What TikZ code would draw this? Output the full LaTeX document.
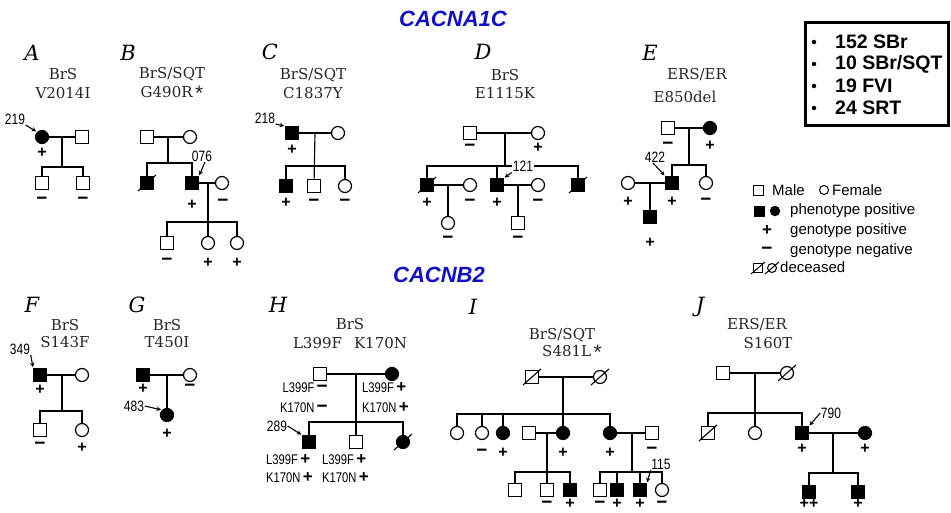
\documentclass[tikz,border=0pt]{standalone}
\usepackage{fontspec}
\setmainfont{DejaVu Serif}
\newfontfamily\sansf{Liberation Sans}
\newfontfamily\narrowf[FakeStretch=0.8]{Liberation Sans}
\usetikzlibrary{arrows.meta}
\definecolor{titleblue}{RGB}{15,15,205}
\newcommand\decslash[1]{\draw[line width=1.1pt] ([shift={(-9,8)}]#1.center) -- ([shift={(9,-8)}]#1.center);}
\newcommand\smdecslash[1]{\draw[line width=1pt] ([shift={(-7,6)}]#1.center) -- ([shift={(7,-6)}]#1.center);}
\newcommand\mns{{\fontsize{19}{19}\selectfont −}}
\newcommand\bigast{\raisebox{-3pt}{\sansf\fontsize{21}{21}\selectfont *}}
\begin{document}
\begin{tikzpicture}[x=1pt,y=-1pt,
  msq/.style={draw, line width=1.2pt, rectangle, minimum size=12.5pt, inner sep=0pt, fill=white},
  fci/.style={draw, line width=1.2pt, circle, minimum size=13pt, inner sep=0pt, fill=white},
  aff/.style={fill=black},
  ln/.style={line width=1.15pt},
  parr/.style={-{Stealth[length=4.5pt,width=4.5pt]}, line width=1.1pt, shorten >=1pt},
  lab/.style={font=\fontsize{15}{15}\selectfont, inner sep=0pt, text=black!85},
  letter/.style={font=\itshape\fontsize{21}{21}\selectfont, inner sep=0pt},
  num/.style={font=\narrowf\fontsize{15}{15}\selectfont, inner sep=0.5pt},
  sg/.style={font=\sansf\bfseries\fontsize{16}{16}\selectfont, inner sep=0pt},
  gt/.style={font=\narrowf\fontsize{14}{14}\selectfont, inner sep=0pt},
  leg/.style={font=\sansf\fontsize{15}{15}\selectfont, inner sep=0pt, anchor=west},
  ttl/.style={font=\sansf\bfseries\itshape\fontsize{22}{22}\selectfont, text=titleblue, inner sep=0pt},
  box/.style={font=\sansf\bfseries\fontsize{19.5}{19.5}\selectfont, inner sep=0pt, anchor=west}
]
\path[use as bounding box] (0,0) rectangle (951,512);

% ---------- titles ----------
\node[ttl] (t1) at (453,19) {CACNA1C};
\node[ttl] (t2) at (439,275) {CACNB2};

% ---------- summary box ----------
\draw[line width=3pt] (805,22) rectangle (948.5,125);
\foreach \yy/\txt [count=\i] in {42/{152 SBr},64/{10 SBr/SQT},86/{19 FVI},108/{24 SRT}}{
  \node[circle, fill=black, minimum size=4.5pt, inner sep=0pt] (bul\i) at (814,\yy) {};
  \node[box] (bx\i) at (835,\yy) {\txt};
}

% ---------- legend ----------
\node[draw, line width=1pt, minimum size=10pt, inner sep=0pt] (lgm) at (758,190) {};
\node[leg] (lgmt) at (772,190) {Male};
\node[draw, line width=1pt, circle, minimum size=9pt, inner sep=0pt] (lgf) at (824,190) {};
\node[leg] (lgft) at (832,190) {Female};
\node[fill=black, minimum size=11pt, inner sep=0pt] (lgpm) at (759,211) {};
\node[fill=black, circle, minimum size=10.5pt, inner sep=0pt] (lgpf) at (775,211) {};
\node[leg] (lgpt) at (790,211) {phenotype positive};
\node[sg, font=\sansf\bfseries\fontsize{17}{17}\selectfont] (lgplus) at (767,231) {+};
\node[leg] (lggp) at (790,231) {genotype positive};
\node[sg, font=\sansf\bfseries\fontsize{19}{19}\selectfont] (lgminus) at (767,251) {−};
\node[leg] (lggn) at (790,251) {genotype negative};
\node[draw, line width=1pt, minimum size=9pt, inner sep=0pt] (lgdm) at (758,268) {};
\node[draw, line width=1pt, circle, minimum size=9pt, inner sep=0pt] (lgdf) at (772,268) {};
\smdecslash{lgdm}
\smdecslash{lgdf}
\node[leg] (lgdt) at (780,267) {deceased};

% ================= Panel A =================
\node[letter] (LA) at (32,53) {A};
\node[lab] (A_d) at (63,74) {BrS};
\node[lab] (A_m) at (63,93) {V2014I};
\node[fci,aff] (A1) at (42,137) {};
\node[msq] (A2) at (82,137) {};
\node[msq] (A3) at (42,183) {};
\node[msq] (A4) at (83,183) {};
\coordinate (Aj) at (62,137); \coordinate (As) at (62,167);
\draw[ln] (A1) -- (A2);
\draw[ln] (Aj) -- (As);
\draw[ln] (A3) |- (As) -| (A4);
\node[sg] (sA1) at (42,153) {+};
\node[sg] (sA3) at (42,201) {\mns};
\node[sg] (sA4) at (83,201) {\mns};
\node[num] (n219) at (15,119) {219};
\draw[parr] (n219.south east) -- (A1.north west);

% ================= Panel B =================
\node[letter] (LB) at (128,53) {B};
\node[lab] (B_d) at (172,74) {BrS/SQT};
\node[lab] (B_m) at (172,93) {G490R\,\bigast};
\node[msq] (B1) at (147,137) {};
\node[fci] (B2) at (190,137) {};
\node[msq,aff] (B3) at (147,183) {};
\node[msq,aff] (B4) at (192,183) {};
\node[fci] (B5) at (222,183) {};
\node[msq] (B6) at (167,243) {};
\node[fci] (B7) at (208,243) {};
\node[fci] (B8) at (237,243) {};
\coordinate (Bj) at (168,137); \coordinate (Bs) at (168,163);
\coordinate (Bj2) at (208,183); \coordinate (Bs2) at (208,222);
\draw[ln] (B1) -- (B2);
\draw[ln] (Bj) -- (Bs);
\draw[ln] (B3) |- (Bs) -| (B4);
\draw[ln] (B4) -- (B5);
\draw[ln] (Bj2) -- (B7);
\draw[ln] (B6) |- (Bs2) -| (B8);
\decslash{B3}
\node[sg] (sB4) at (192,205) {+};
\node[sg] (sB5) at (223,203) {\mns};
\node[sg] (sB6) at (167,262) {\mns};
\node[sg] (sB7) at (208,263) {+};
\node[sg] (sB8) at (237,263) {+};
\node[num] (n076) at (202,156) {076};
\draw[parr] ([xshift=3pt]n076.south) -- (B4.north east);

% ================= Panel C =================
\node[letter] (LC) at (270,52) {C};
\node[lab] (C_d) at (313,75) {BrS/SQT};
\node[lab] (C_m) at (313,93) {C1837Y};
\node[msq,aff] (C1) at (292,133) {};
\node[fci] (C2) at (338,133) {};
\node[msq,aff] (C3) at (286,186) {};
\node[msq] (C4) at (314,186) {};
\node[fci] (C5) at (345,186) {};
\coordinate (Cj) at (315,133); \coordinate (Cs) at (315,166);
\draw[ln] (C1) -- (C2);
\draw[ln] (Cj) -- (C4);
\draw[ln] (C3) |- (Cs) -| (C5);
\node[sg] (sC1) at (292,150) {+};
\node[sg] (sC3) at (286,203) {+};
\node[sg] (sC4) at (314,203) {\mns};
\node[sg] (sC5) at (345,203) {\mns};
\node[num] (n218) at (265,118) {218};
\draw[parr] (n218.south east) -- (C1.north west);

% ================= Panel D =================
\node[letter] (LD) at (483,52) {D};
\node[lab] (D_d) at (505,75) {BrS};
\node[lab] (D_m) at (505,93) {E1115K};
\node[msq] (D1) at (470,133) {};
\node[fci] (D2) at (538,133) {};
\node[msq,aff] (D3) at (427,185) {};
\node[msq,aff] (D4) at (497,185) {};
\node[msq,aff] (D5) at (578,185) {};
\node[fci] (D6) at (470,185) {};
\node[fci] (D7) at (538,185) {};
\node[fci] (D8) at (448,223) {};
\node[msq] (D9) at (518,223) {};
\coordinate (Dj) at (505,133); \coordinate (Ds) at (505,166);
\coordinate (Dj2) at (448,185); \coordinate (Dj3) at (518,185);
\draw[ln] (D1) -- (D2);
\draw[ln] (Dj) -- (Ds);
\draw[ln] (D3) |- (Ds) -| (D5);
\draw[ln] (D4) -- (D4 |- Ds);
\draw[ln] (D3) -- (D6);
\draw[ln] (D4) -- (D7);
\draw[ln] (Dj2) -- (D8);
\draw[ln] (Dj3) -- (D9);
\decslash{D3}
\decslash{D5}
\node[sg] (sD1) at (470,148) {\mns};
\node[sg] (sD2) at (538,148) {+};
\node[sg] (sD3) at (427,203) {+};
\node[sg] (sD6) at (470,203) {\mns};
\node[sg] (sD4) at (497,203) {+};
\node[sg] (sD7) at (538,203) {\mns};
\node[sg] (sD8) at (448,240) {\mns};
\node[sg] (sD9) at (518,240) {\mns};
\node[num, fill=white, inner sep=1pt] (n121) at (523,166) {121};
\draw[parr] (n121.south west) -- (D4.north east);

% ================= Panel E =================
\node[letter] (LE) at (650,53) {E};
\node[lab] (E_d) at (697,75) {ERS/ER};
\node[lab] (E_m) at (685,97) {E850del};
\node[msq] (E1) at (668,128) {};
\node[fci,aff] (E2) at (710,128) {};
\node[msq,aff] (E3) at (672,183) {};
\node[fci] (E4) at (706,183) {};
\node[fci] (E5) at (628,183) {};
\node[msq,aff] (E6) at (650,217) {};
\coordinate (Ej) at (689,128); \coordinate (Es) at (689,165);
\coordinate (Ej2) at (650,183);
\draw[ln] (E1) -- (E2);
\draw[ln] (Ej) -- (Es);
\draw[ln] (E3) |- (Es) -| (E4);
\draw[ln] (E5) -- (E3);
\draw[ln] (Ej2) -- (E6);
\node[sg] (sE1) at (668,146) {\mns};
\node[sg] (sE2) at (710,146) {+};
\node[sg] (sE5) at (628,202) {+};
\node[sg] (sE3) at (672,202) {+};
\node[sg] (sE4) at (706,202) {\mns};
\node[sg] (sE6) at (650,243) {+};
\node[num] (n422) at (655,157) {422};
\draw[parr] ([xshift=-2pt]n422.south) -- (E3.north west);

% ================= Panel F =================
\node[letter] (LF) at (32,305) {F};
\node[lab] (F_d) at (65,325) {BrS};
\node[lab] (F_m) at (65,342) {S143F};
\node[msq,aff] (F1) at (40,375) {};
\node[fci] (F2) at (82,375) {};
\node[msq] (F3) at (40,430) {};
\node[fci] (F4) at (82,430) {};
\coordinate (Fj) at (62,375); \coordinate (Fs) at (62,411);
\draw[ln] (F1) -- (F2);
\draw[ln] (Fj) -- (Fs);
\draw[ln] (F3) |- (Fs) -| (F4);
\node[sg] (sF1) at (40,390) {+};
\node[sg] (sF3) at (40,446) {\mns};
\node[sg] (sF4) at (82,448) {+};
\node[num] (n349) at (20,349) {349};
\draw[parr] (n349.south east) -- (F1.north west);

% ================= Panel G =================
\node[letter] (LG) at (137,305) {G};
\node[lab] (G_d) at (167,325) {BrS};
\node[lab] (G_m) at (167,342) {T450I};
\node[msq,aff] (G1) at (143,375) {};
\node[fci] (G2) at (190,375) {};
\node[fci,aff] (G3) at (167,415) {};
\coordinate (Gj) at (167,375);
\draw[ln] (G1) -- (G2);
\draw[ln] (Gj) -- (G3);
\node[sg] (sG1) at (143,389) {+};
\node[sg] (sG2) at (190,388) {\mns};
\node[sg] (sG3) at (167,434) {+};
\node[num] (n483) at (134,406) {483};
\draw[parr] (n483.east) -- (G3.north west);

% ================= Panel H =================
\node[letter] (LH) at (278,305) {H};
\node[lab] (H_d) at (350,324) {BrS};
\node[lab] (H_m) at (350,343) {L399F\hspace{12pt}K170N};
\node[msq] (H1) at (320,374) {};
\node[fci,aff] (H2) at (392,374) {};
\node[msq,aff] (H3) at (309,442) {};
\node[msq] (H4) at (356,442) {};
\node[fci,aff] (H5) at (403,442) {};
\coordinate (Hj) at (356,374); \coordinate (Hs) at (356,422);
\draw[ln] (H1) -- (H2);
\draw[ln] (Hj) -- (H4);
\draw[ln] (H3) |- (Hs) -| (H5);
\decslash{H5}
\node[gt, anchor=east] (gH1a) at (328,388) {L399F\,{\sansf\bfseries\mns}};
\node[gt, anchor=east] (gH1b) at (328,408) {K170N\,{\sansf\bfseries\mns}};
\node[gt, anchor=west] (gH2a) at (362,388) {L399F\,{\sansf\bfseries\fontsize{17}{17}\selectfont +}};
\node[gt, anchor=west] (gH2b) at (362,408) {K170N\,{\sansf\bfseries\fontsize{17}{17}\selectfont +}};
\node[gt, anchor=west] (gH3a) at (266,460) {L399F\,{\sansf\bfseries\fontsize{17}{17}\selectfont +}};
\node[gt, anchor=west] (gH3b) at (266,478) {K170N\,{\sansf\bfseries\fontsize{17}{17}\selectfont +}};
\node[gt, anchor=west] (gH4a) at (322,460) {L399F\,{\sansf\bfseries\fontsize{17}{17}\selectfont +}};
\node[gt, anchor=west] (gH4b) at (322,478) {K170N\,{\sansf\bfseries\fontsize{17}{17}\selectfont +}};
\node[num] (n289) at (277,426) {289};
\draw[parr] (n289.east) -- (H3.north west);

% ================= Panel I =================
\node[letter] (LI) at (473,307) {I};
\node[lab] (I_d) at (562,335) {BrS/SQT};
\node[lab] (I_m) at (572,352) {S481L\,\bigast};
\node[msq] (I1) at (532,377) {};
\node[fci] (I2) at (600,377) {};
\node[fci] (I3) at (457,433) {};
\node[fci] (I4) at (482,433) {};
\node[fci,aff] (I5) at (503,433) {};
\node[fci,aff] (I6) at (563,433) {};
\node[fci,aff] (I7) at (610,433) {};
\node[msq] (I8) at (529,433) {};
\node[msq] (I12) at (652,433) {};
\node[msq] (I9) at (515,490) {};
\node[msq] (I10) at (547,490) {};
\node[msq,aff] (I11) at (570,490) {};
\node[msq] (I13) at (600,490) {};
\node[msq,aff] (I14) at (617,490) {};
\node[msq,aff] (I15) at (640,490) {};
\node[fci] (I16) at (662,490) {};
\coordinate (Ij) at (563,377); \coordinate (Is) at (563,414);
\coordinate (Ij2) at (547,433); \coordinate (Is2) at (547,472);
\coordinate (Ij3) at (632,433); \coordinate (Is3) at (632,472);
\draw[ln] (I1) -- (I2);
\draw[ln] (Ij) -- (I6);
\draw[ln] (I3) |- (Is) -| (I7);
\draw[ln] (I4) -- (I4 |- Is);
\draw[ln] (I5) -- (I5 |- Is);
\draw[ln] (I8) -- (I6);
\draw[ln] (Ij2) -- (I10);
\draw[ln] (I9) |- (Is2) -| (I11);
\draw[ln] (I7) -- (I12);
\draw[ln] (Ij3) -- (Is3);
\draw[ln] (I13) |- (Is3) -| (I16);
\draw[ln] (I14) -- (I14 |- Is3);
\draw[ln] (I15) -- (I15 |- Is3);
\decslash{I1}
\decslash{I2}
\node[sg] (sI4) at (482,453) {\mns};
\node[sg] (sI5) at (503,453) {+};
\node[sg] (sI6) at (563,453) {+};
\node[sg] (sI7) at (610,453) {+};
\node[sg] (sI12) at (652,451) {\mns};
\node[sg] (sI10) at (547,505) {\mns};
\node[sg] (sI11) at (570,504) {+};
\node[sg] (sI13) at (600,505) {\mns};
\node[sg] (sI14) at (617,504) {+};
\node[sg] (sI15) at (640,504) {+};
\node[sg] (sI16) at (662,505) {\mns};
\node[num] (n115) at (661,464) {115};
\draw[parr] (n115.south west) -- (I15.north east);

% ================= Panel J =================
\node[letter] (LJ) at (700,307) {J};
\node[lab] (J_d) at (757,325) {ERS/ER};
\node[lab] (J_m) at (768,343) {S160T};
\node[msq] (J1) at (723,373) {};
\node[fci] (J2) at (787,373) {};
\node[msq] (J3) at (708,433) {};
\node[fci] (J4) at (755,433) {};
\node[msq,aff] (J5) at (802,433) {};
\node[fci,aff] (J6) at (865,433) {};
\node[msq,aff] (J7) at (809,492) {};
\node[msq,aff] (J8) at (858,492) {};
\coordinate (Jj) at (755,373); \coordinate (Js) at (755,413);
\coordinate (Jj2) at (833,433); \coordinate (Js2) at (833,473);
\draw[ln] (J1) -- (J2);
\draw[ln] (Jj) -- (J4);
\draw[ln] (J3) |- (Js) -| (J5);
\draw[ln] (J5) -- (J6);
\draw[ln] (Jj2) -- (Js2);
\draw[ln] (J7) |- (Js2) -| (J8);
\decslash{J2}
\decslash{J3}
\node[sg] (sJ5) at (802,449) {+};
\node[sg] (sJ6) at (865,449) {+};
\node[sg] (sJ7) at (809,504) {++};
\node[sg] (sJ8) at (858,504) {+};
\node[num] (n790) at (831,413) {790};
\draw[parr] (n790.west) -- (J5.north east);
\end{tikzpicture}
\end{document}
